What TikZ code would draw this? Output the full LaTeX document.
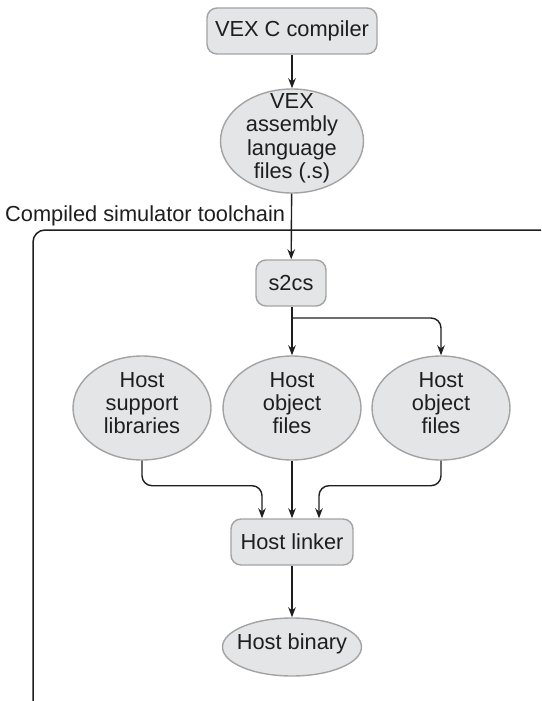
\documentclass[tikz,border=0pt]{standalone}
\usepackage{fontspec}
\setmainfont{Liberation Sans}
\usetikzlibrary{shapes.geometric,arrows.meta,calc}
\definecolor{boxfill}{HTML}{E4E5E7}
\definecolor{boxline}{HTML}{A3A3A3}
\definecolor{ink}{HTML}{1E1E1E}
\newcommand{\zt}[1]{\makebox[0pt]{\raisebox{-3pt}[0pt][0pt]{\begin{tabular}{@{}c@{}}#1\end{tabular}}}}
\begin{document}
\begin{tikzpicture}[x=1pt,y=-1pt,
  font=\fontsize{21.8}{23.2}\selectfont, text=ink,
  procbox/.style={draw=boxline, fill=boxfill, line width=1.4pt, rounded corners=10pt, minimum height=46pt, inner sep=0pt},
  datael/.style={ellipse, draw=boxline, fill=boxfill, line width=1.4pt, inner sep=0pt},
  arr/.style={draw=ink, line width=1.4pt, -{Stealth[length=10pt,width=7.5pt]}},
  frameline/.style={draw=ink, line width=1.5pt, rounded corners=12pt}]
\useasboundingbox (0,0) rectangle (541,701);
\begin{scope}
\clip (0,0) rectangle (541,701);
\draw[frameline] (33,230) rectangle (620,712);
\end{scope}
\node[anchor=base west, inner sep=0pt] (lab) at (5,221) {Compiled simulator toolchain};
\node[procbox, minimum width=170pt] (comp) at (292,31) {VEX C compiler};
\node[datael, minimum width=143pt, minimum height=104pt] (vex) at (292,141) {\zt{VEX\\assembly\\language\\files (.s)}};
\node[procbox, minimum width=70pt] (s2cs) at (291,283) {s2cs};
\node[datael, minimum width=138pt, minimum height=104pt] (hsl) at (142,408) {\zt{Host\\support\\libraries}};
\node[datael, minimum width=138pt, minimum height=104pt] (hof1) at (292,408) {\zt{Host\\object\\files}};
\node[datael, minimum width=138pt, minimum height=104pt] (hof2) at (441,408) {\zt{Host\\object\\files}};
\node[procbox, minimum width=122pt] (link) at (292,542) {Host linker};
\node[datael, minimum width=139pt, minimum height=58pt] (bin) at (292,647) {\zt{Host binary}};
\coordinate (br) at (292,318);
\draw[arr] (comp) -- (vex);
\draw[arr] (vex) -- (s2cs);
\draw[arr] (s2cs.south -| hof1.north) -- (hof1);
\draw[arr, rounded corners=10pt] (br) -| (hof2.north);
\draw[arr, rounded corners=10pt] (hsl.south) -- ++(0,25) -| ([xshift=-30pt]link.north);
\draw[arr] (hof1) -- (link);
\draw[arr, rounded corners=10pt] (hof2.south) -- ++(0,25) -| ([xshift=27pt]link.north);
\draw[arr] (link) -- (bin);
\end{tikzpicture}
\end{document}
